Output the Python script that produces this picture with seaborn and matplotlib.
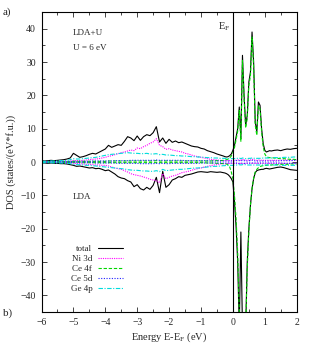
import numpy as np
import pandas as pd
import seaborn as sns
import matplotlib
matplotlib.use("Agg")
import matplotlib.pyplot as plt
from matplotlib.ticker import MultipleLocator

# ---------------- data ----------------
energy = [
    -6.0, -5.9, -5.8, -5.7, -5.6, -5.5, -5.4, -5.3, -5.2, -5.1,
    -5.0, -4.9, -4.8, -4.7, -4.6, -4.5, -4.4, -4.3, -4.2, -4.1,
    -4.0, -3.9, -3.8, -3.7, -3.6, -3.5, -3.4, -3.3, -3.2, -3.1,
    -3.0, -2.9, -2.8, -2.7, -2.6, -2.5, -2.4, -2.3, -2.2, -2.1,
    -2.0, -1.9, -1.8, -1.7, -1.6, -1.5, -1.4, -1.3, -1.2, -1.1,
    -1.0, -0.9, -0.8, -0.7, -0.6, -0.5, -0.4, -0.3,
    -0.25, -0.2, -0.15, -0.1, -0.05,
    0.0, 0.05, 0.1, 0.15, 0.2, 0.25, 0.3, 0.35, 0.4, 0.45,
    0.5, 0.55, 0.6, 0.65, 0.7, 0.75, 0.8, 0.85, 0.9, 0.95,
    1.0, 1.05, 1.1, 1.15, 1.2,
    1.3, 1.4, 1.5, 1.6, 1.7, 1.8, 1.9, 2.0,
]

# LDA+U (upper half, positive)
total_ldau = [
    0.4, 0.3, 0.4, 0.5, 0.4, 0.5, 0.6, 0.7, 0.9, 1.2,
    2.6, 2.0, 1.4, 1.6, 1.9, 2.3, 2.6, 2.4, 2.9, 3.4,
    3.9, 5.0, 4.4, 4.8, 5.2, 5.0, 6.2, 7.6, 7.2, 6.4,
    7.8, 6.5, 7.6, 8.2, 7.9, 8.8, 10.6, 6.0, 7.2, 5.6,
    6.8, 5.9, 6.3, 5.8, 6.0, 5.6, 5.2, 4.8, 4.6, 4.5,
    4.1, 3.9, 3.4, 3.1, 2.8, 2.4, 2.1, 1.8,
    1.6, 1.5, 1.6, 1.9, 2.4,
    3.5, 5.0, 7.5, 10.0, 16.5, 7.0, 32.0, 20.0, 11.0, 14.0,
    24.0, 27.0, 39.0, 30.0, 12.0, 9.0, 18.0, 17.0, 10.0, 5.5,
    3.5, 3.0, 3.2, 3.4, 3.3,
    3.5, 3.6, 3.4, 3.7, 3.9, 3.8, 4.0, 4.1,
]
ni3d_ldau = [
    0.1, 0.1, 0.1, 0.1, 0.1, 0.1, 0.1, 0.2, 0.2, 0.3,
    0.5, 0.4, 0.4, 0.5, 0.6, 0.7, 0.8, 0.9, 1.0, 1.2,
    1.4, 1.7, 1.9, 2.2, 2.5, 2.8, 3.0, 3.3, 3.6, 3.4,
    4.2, 4.0, 4.6, 5.0, 5.6, 6.0, 7.0, 5.0, 4.6, 3.8,
    4.0, 3.6, 3.4, 3.2, 3.0, 2.6, 2.4, 2.1, 1.8, 1.6,
    1.4, 1.2, 1.0, 0.8, 0.7, 0.6, 0.5, 0.4,
    0.4, 0.4, 0.4, 0.4, 0.4,
    0.4, 0.5, 0.5, 0.6, 0.7, 0.4, 0.8, 0.7, 0.5, 0.5,
    0.6, 0.6, 0.8, 0.8, 0.5, 0.5, 0.6, 0.6, 0.5, 0.5,
    0.5, 0.5, 0.5, 0.5, 0.5,
    0.5, 0.5, 0.5, 0.6, 0.6, 0.6, 0.6, 0.6,
]
ce4f_ldau = [
    0.1, 0.1, 0.1, 0.1, 0.1, 0.1, 0.1, 0.1, 0.1, 0.1,
    0.2, 0.2, 0.2, 0.2, 0.2, 0.2, 0.2, 0.2, 0.2, 0.2,
    0.2, 0.3, 0.3, 0.3, 0.3, 0.3, 0.3, 0.3, 0.3, 0.3,
    0.3, 0.3, 0.3, 0.3, 0.3, 0.3, 0.4, 0.3, 0.3, 0.3,
    0.3, 0.3, 0.3, 0.3, 0.3, 0.3, 0.3, 0.3, 0.3, 0.3,
    0.3, 0.3, 0.3, 0.3, 0.4, 0.4, 0.4, 0.5,
    0.6, 0.7, 0.9, 1.2, 1.8,
    2.8, 4.3, 6.7, 9.2, 15.5, 6.2, 30.5, 19.0, 10.2, 13.0,
    23.0, 25.8, 37.5, 28.5, 11.0, 8.0, 16.8, 16.0, 9.0, 4.5,
    2.4, 1.6, 1.4, 1.3, 1.3,
    1.2, 1.1, 1.0, 1.0, 0.9, 0.8, 0.8, 0.7,
]
ce5d_ldau = [
    0.1, 0.1, 0.1, 0.1, 0.1, 0.1, 0.1, 0.1, 0.1, 0.1,
    0.2, 0.2, 0.2, 0.2, 0.2, 0.2, 0.3, 0.3, 0.3, 0.3,
    0.3, 0.3, 0.3, 0.4, 0.4, 0.4, 0.4, 0.4, 0.5, 0.5,
    0.5, 0.5, 0.5, 0.5, 0.5, 0.5, 0.6, 0.5, 0.5, 0.5,
    0.5, 0.5, 0.5, 0.5, 0.5, 0.4, 0.4, 0.4, 0.4, 0.4,
    0.4, 0.4, 0.4, 0.3, 0.3, 0.3, 0.3, 0.3,
    0.3, 0.3, 0.3, 0.3, 0.3,
    0.3, 0.3, 0.4, 0.4, 0.4, 0.3, 0.5, 0.4, 0.3, 0.3,
    0.4, 0.4, 0.5, 0.5, 0.3, 0.3, 0.3, 0.3, 0.3, 0.3,
    0.3, 0.3, 0.3, 0.3, 0.3,
    0.3, 0.3, 0.4, 0.4, 0.4, 0.4, 0.5, 0.5,
]
ge4p_ldau = [
    0.2, 0.2, 0.2, 0.3, 0.3, 0.3, 0.4, 0.4, 0.5, 0.7,
    1.0, 0.9, 0.9, 1.0, 1.1, 1.2, 1.3, 1.4, 1.6, 1.8,
    2.0, 2.2, 2.3, 2.4, 2.5, 2.6, 2.7, 2.8, 2.7, 2.6,
    2.6, 2.5, 2.5, 2.6, 2.4, 2.4, 2.5, 2.2, 2.3, 2.1,
    2.1, 2.0, 1.9, 1.9, 1.8, 1.8, 1.7, 1.6, 1.6, 1.5,
    1.5, 1.4, 1.3, 1.3, 1.2, 1.2, 1.1, 1.1,
    1.1, 1.0, 1.0, 1.0, 1.0,
    1.0, 1.0, 1.1, 1.1, 1.2, 1.0, 1.2, 1.1, 1.0, 1.0,
    1.1, 1.1, 1.2, 1.2, 1.0, 1.1, 1.1, 1.1, 1.1, 1.2,
    1.2, 1.2, 1.2, 1.2, 1.2,
    1.3, 1.3, 1.3, 1.4, 1.4, 1.4, 1.5, 1.5,
]

# LDA (lower half, plotted negative)
total_lda = [
    -0.3, -0.3, -0.4, -0.3, -0.4, -0.4, -0.5, -0.5, -0.6, -0.8,
    -1.0, -1.3, -1.2, -1.4, -1.6, -1.8, -1.7, -2.0, -1.9, -2.2,
    -2.6, -2.4, -3.0, -3.6, -4.4, -4.8, -5.0, -5.6, -6.0, -7.4,
    -6.8, -8.0, -8.4, -7.6, -8.2, -7.0, -4.6, -9.2, -2.8, -7.6,
    -6.8, -5.4, -5.0, -4.4, -4.6, -4.0, -3.8, -3.6, -3.3, -3.0,
    -2.9, -3.0, -3.1, -2.9, -3.0, -3.1, -3.0, -3.2,
    -3.3, -3.5, -3.8, -4.3, -5.0,
    -6.0, -12.0, -19.5, -30.0, -50.0, -21.0, -50.0, -50.0, -50.0, -30.0,
    -20.0, -13.0, -8.0, -5.0, -3.2, -2.6, -2.4, -2.3, -2.2, -2.2,
    -2.0, -1.9, -2.0, -2.1, -2.0,
    -1.8, -1.6, -1.5, -1.7, -2.0, -2.3, -2.4, -2.5,
]
ni3d_lda = [
    -0.1, -0.1, -0.1, -0.1, -0.1, -0.1, -0.1, -0.1, -0.2, -0.2,
    -0.4, -0.5, -0.5, -0.6, -0.7, -0.7, -0.8, -0.9, -0.9, -1.0,
    -1.0, -1.2, -1.5, -1.8, -2.0, -2.2, -2.6, -3.0, -3.5, -3.8,
    -4.0, -4.2, -4.5, -4.8, -5.2, -5.4, -5.6, -6.2, -3.5, -5.0,
    -4.6, -4.2, -4.0, -3.6, -3.2, -3.0, -2.8, -2.5, -2.2, -2.0,
    -1.8, -1.5, -1.3, -1.1, -0.9, -0.8, -0.6, -0.5,
    -0.5, -0.5, -0.4, -0.4, -0.4,
    -0.4, -0.4, -0.4, -0.4, -0.5, -0.4, -0.5, -0.5, -0.4, -0.4,
    -0.4, -0.4, -0.4, -0.4, -0.4, -0.4, -0.4, -0.4, -0.4, -0.4,
    -0.4, -0.4, -0.4, -0.4, -0.4,
    -0.4, -0.4, -0.4, -0.4, -0.4, -0.4, -0.4, -0.4,
]
ce4f_lda = [
    -0.1, -0.1, -0.1, -0.1, -0.1, -0.1, -0.1, -0.1, -0.1, -0.1,
    -0.1, -0.1, -0.1, -0.2, -0.2, -0.2, -0.2, -0.2, -0.2, -0.2,
    -0.2, -0.2, -0.2, -0.2, -0.2, -0.2, -0.2, -0.2, -0.2, -0.2,
    -0.2, -0.2, -0.2, -0.2, -0.2, -0.2, -0.2, -0.2, -0.2, -0.2,
    -0.2, -0.2, -0.2, -0.2, -0.2, -0.2, -0.2, -0.2, -0.2, -0.2,
    -0.2, -0.2, -0.3, -0.3, -0.3, -0.4, -0.4, -0.5,
    -0.5, -0.6, -0.9, -1.5, -3.0,
    -5.0, -10.0, -17.0, -27.0, -45.0, -50.0, -50.0, -50.0, -50.0, -32.0,
    -21.0, -13.0, -8.0, -4.8, -3.0, -2.2, -1.7, -1.4, -1.2, -1.1,
    -1.0, -1.0, -0.9, -0.9, -0.9,
    -0.8, -0.8, -0.7, -0.7, -0.7, -0.6, -0.6, -0.6,
]
ce5d_lda = [
    -0.1, -0.1, -0.1, -0.1, -0.1, -0.1, -0.1, -0.1, -0.1, -0.1,
    -0.2, -0.2, -0.2, -0.2, -0.2, -0.2, -0.2, -0.3, -0.3, -0.3,
    -0.3, -0.3, -0.3, -0.3, -0.4, -0.4, -0.4, -0.4, -0.4, -0.4,
    -0.4, -0.5, -0.5, -0.5, -0.5, -0.5, -0.4, -0.5, -0.4, -0.5,
    -0.5, -0.4, -0.4, -0.4, -0.4, -0.4, -0.4, -0.4, -0.4, -0.4,
    -0.3, -0.3, -0.3, -0.3, -0.3, -0.3, -0.3, -0.3,
    -0.3, -0.3, -0.3, -0.3, -0.3,
    -0.3, -0.3, -0.3, -0.4, -0.4, -0.3, -0.4, -0.4, -0.4, -0.3,
    -0.3, -0.3, -0.3, -0.3, -0.3, -0.3, -0.3, -0.3, -0.3, -0.3,
    -0.3, -0.3, -0.3, -0.3, -0.3,
    -0.3, -0.3, -0.3, -0.4, -0.4, -0.4, -0.4, -0.4,
]
ge4p_lda = [
    -0.2, -0.2, -0.2, -0.2, -0.3, -0.3, -0.3, -0.3, -0.4, -0.5,
    -0.7, -0.8, -0.8, -0.9, -1.0, -1.0, -1.1, -1.2, -1.3, -1.4,
    -1.5, -1.6, -1.7, -1.8, -1.9, -2.0, -2.1, -2.3, -2.4, -2.5,
    -2.5, -2.6, -2.7, -2.7, -2.8, -2.8, -2.6, -2.9, -2.2, -2.6,
    -2.5, -2.4, -2.3, -2.2, -2.2, -2.1, -2.0, -1.9, -1.8, -1.8,
    -1.7, -1.6, -1.5, -1.4, -1.3, -1.3, -1.2, -1.1,
    -1.1, -1.0, -1.0, -1.0, -1.0,
    -1.0, -0.9, -0.9, -0.9, -0.8, -0.9, -0.8, -0.8, -0.8, -0.9,
    -0.9, -0.9, -0.9, -0.9, -0.9, -0.9, -0.9, -0.9, -0.9, -0.9,
    -0.9, -0.9, -0.9, -0.9, -0.9,
    -0.9, -0.9, -1.0, -1.0, -1.0, -1.0, -1.0, -1.0,
]

series_names = ["total", "Ni 3d", "Ce 4f", "Ce 5d", "Ge 4p"]
ldau_values = [total_ldau, ni3d_ldau, ce4f_ldau, ce5d_ldau, ge4p_ldau]
lda_values = [total_lda, ni3d_lda, ce4f_lda, ce5d_lda, ge4p_lda]

x_ticks = [-6, -5, -4, -3, -2, -1, 0, 1, 2]
y_ticks = [-40, -30, -20, -10, 0, 10, 20, 30, 40]

# ---------------- styling ----------------
sns.set_theme(style="ticks")
plt.rcParams["font.family"] = ["Liberation Serif", "DejaVu Serif"]
plt.rcParams["mathtext.fontset"] = "custom"
plt.rcParams["mathtext.rm"] = "Liberation Serif"
plt.rcParams["mathtext.it"] = "Liberation Serif"

styles = {
    "total": dict(color="black", linestyle="-", lw=0.8),
    "Ni 3d": dict(color="#ff00ff", linestyle=(0, (1, 1)), lw=0.8),
    "Ce 4f": dict(color="#00d800", linestyle=(0, (3, 1.6)), lw=0.8),
    "Ce 5d": dict(color="#2020ff", linestyle=(0, (1, 1.4)), lw=0.8),
    "Ge 4p": dict(color="#00dcdc", linestyle=(0, (4, 1.4, 1, 1.4)), lw=0.8),
}

fig = plt.figure(figsize=(3.14, 3.54), dpi=100)
ax = fig.add_axes([41.5 / 314, 1 - 312 / 354, (296.7 - 41.5) / 314, (312 - 12) / 354])

handles = []
for name, vu, vl in zip(series_names, ldau_values, lda_values):
    df_u = pd.DataFrame({"E": energy, "DOS": vu})
    df_l = pd.DataFrame({"E": energy, "DOS": vl})
    sns.lineplot(data=df_u, x="E", y="DOS", ax=ax, sort=False, estimator=None,
                 label=name, **styles[name])
    sns.lineplot(data=df_l, x="E", y="DOS", ax=ax, sort=False, estimator=None,
                 **styles[name])

ax.axvline(0, color="black", lw=0.8)

ax.set_xlim(-6, 2)
ax.set_ylim(-45, 45)
ax.set_xticks(x_ticks)
ax.set_yticks(y_ticks)
ax.xaxis.set_minor_locator(MultipleLocator(0.5))
ax.yaxis.set_minor_locator(MultipleLocator(5))
ax.tick_params(which="both", direction="in", top=True, right=True,
               labelsize=7, width=0.6, pad=4)
ax.tick_params(which="major", length=3.5)
ax.tick_params(which="minor", length=2)
for s in ax.spines.values():
    s.set_linewidth(0.8)
    s.set_color("black")

ax.set_xlabel(r"Energy E-E$_{\mathrm{F}}$ (eV)", fontsize=7.5, labelpad=3)
ax.set_ylabel("DOS (states/(eV*f.u.))", fontsize=7.5, labelpad=3)

ax.text(-5.02, 38.7, "LDA+U", fontsize=6.5, ha="left", va="center")
ax.text(-5.02, 34.2, "U = 6 eV", fontsize=6.5, ha="left", va="center")
ax.text(-5.02, -10.5, "LDA", fontsize=6.5, ha="left", va="center")
ax.text(-0.08, 40.5, r"E$_{\mathrm{F}}$", fontsize=7.5, ha="right", va="center")

fig.text(3 / 314, 1 - 12 / 354, "a)", fontsize=8, ha="left", va="center")
fig.text(3 / 314, 1 - 313 / 354, "b)", fontsize=8, ha="left", va="center")

leg = ax.legend(loc="upper right", bbox_to_anchor=(123 / 314, 1 - 245 / 354),
                bbox_transform=fig.transFigure, frameon=False, markerfirst=False,
                fontsize=6.5, handlelength=2.8, handletextpad=0.6,
                labelspacing=0.18, borderpad=0, borderaxespad=0)

fig.savefig("out.png", dpi=100)
